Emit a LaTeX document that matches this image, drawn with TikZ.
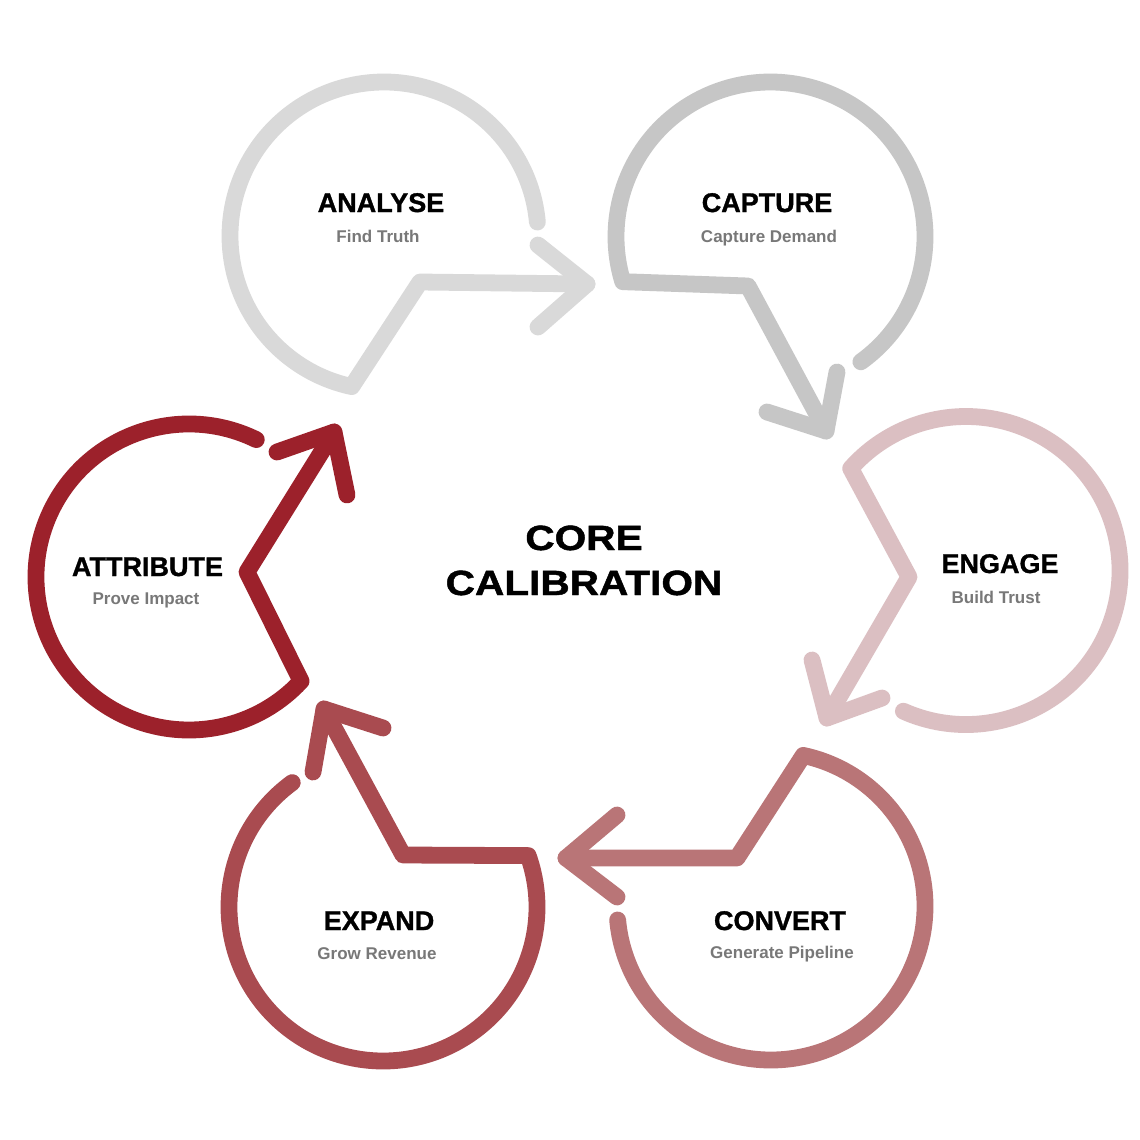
\documentclass[tikz,border=0pt]{standalone}
\usepackage{fontspec}
\setmainfont{Liberation Sans}
\newfontfamily\heavyfont[FakeBold=1.2]{Liberation Sans Bold}
\usepackage{graphicx}
\definecolor{cA}{HTML}{D9D9D9}
\definecolor{cB}{HTML}{C6C6C6}
\definecolor{cC}{HTML}{DBBFC2}
\definecolor{cD}{HTML}{B97577}
\definecolor{cE}{HTML}{A94B50}
\definecolor{cF}{HTML}{9C212B}
\definecolor{subgray}{HTML}{787878}
\begin{document}
\begin{tikzpicture}[x=1pt,y=-1pt,
  loopline/.style={line width=16.8pt, line cap=round, line join=round},
  title/.style={font=\fontsize{27}{32}\selectfont\heavyfont, anchor=base, inner sep=0pt, text=black},
  sub/.style={font=\fontsize{17}{20}\selectfont\bfseries, text=subgray, anchor=base, inner sep=0pt},
  core/.style={font=\fontsize{35}{40}\selectfont\heavyfont, anchor=base, inner sep=0pt, text=black}]
\fill[white] (0,0) rectangle (1140,1140);
\useasboundingbox (0,0) rectangle (1140,1140);

% ANALYSE
\coordinate (A) at (384,236);
\coordinate (Av) at (420,282);
\coordinate (At) at (587,284);
\coordinate (Aa1) at (538,245);
\coordinate (Aa2) at (538,327);
\draw[loopline, cA] (A) ++(-5.2:154) arc[start angle=-5.2, end angle=-257.9, radius=154] -- (Av) -- (At);
\draw[loopline, cA] (Aa1) -- (At) -- (Aa2);

% CAPTURE
\coordinate (B) at (770.5,236.5);
\coordinate (Bv) at (748,286);
\coordinate (Bt) at (826,431);
\coordinate (Ba1) at (837,372);
\coordinate (Ba2) at (767,412);
\draw[loopline, cB] (B) ++(54.2:154.5) arc[start angle=54.2, end angle=-197.0, radius=154.5] -- (Bv) -- (Bt);
\draw[loopline, cB] (Ba1) -- (Bt) -- (Ba2);

% ENGAGE
\coordinate (C) at (966,570.5);
\coordinate (Cv) at (909,577);
\coordinate (Ct) at (827,718);
\coordinate (Ca1) at (812,660);
\coordinate (Ca2) at (882,698);
\draw[loopline, cC] (C) ++(114.0:154) arc[start angle=114.0, end angle=-138.5, radius=154] -- (Cv) -- (Ct);
\draw[loopline, cC] (Ca1) -- (Ct) -- (Ca2);

% CONVERT
\coordinate (D) at (771,906);
\coordinate (Dv) at (737,858);
\coordinate (Dt) at (566,858);
\coordinate (Da1) at (617,815);
\coordinate (Da2) at (617,897);
\draw[loopline, cD] (D) ++(174.8:154) arc[start angle=174.8, end angle=-77.9, radius=154] -- (Dv) -- (Dt);
\draw[loopline, cD] (Da1) -- (Dt) -- (Da2);

% EXPAND
\coordinate (E) at (383,907);
\coordinate (Ev) at (403,855);
\coordinate (Et) at (324,709);
\coordinate (Ea1) at (313,772);
\coordinate (Ea2) at (383,728);
\draw[loopline, cE] (E) ++(233.9:154) arc[start angle=233.9, end angle=-19.5, radius=154] -- (Ev) -- (Et);
\draw[loopline, cE] (Ea1) -- (Et) -- (Ea2);

% ATTRIBUTE
\coordinate (F) at (189,577);
\coordinate (Fv) at (247,572);
\coordinate (Ft) at (334,432);
\coordinate (Fa1) at (277,452);
\coordinate (Fa2) at (347,495);
\draw[loopline, cF] (F) ++(-63.9:153) arc[start angle=-63.9, end angle=-317.1, radius=153] -- (Fv) -- (Ft);
\draw[loopline, cF] (Fa1) -- (Ft) -- (Fa2);

% texts
\node[title] (tA) at (381,212) {ANALYSE};
\node[sub] (sA) at (378,242) {Find Truth};
\node[title] (tB) at (767,212) {CAPTURE};
\node[sub] (sB) at (769,242) {Capture Demand};
\node[title] (tC) at (1000,573) {ENGAGE};
\node[sub] (sC) at (996,603) {Build Trust};
\node[title] (tD) at (780,930) {CONVERT};
\node[sub] (sD) at (782,958) {Generate Pipeline};
\node[title] (tE) at (379,930) {EXPAND};
\node[sub] (sE) at (377,959) {Grow Revenue};
\node[title] (tF) at (147.5,576) {ATTRIBUTE};
\node[sub] (sF) at (146,604) {Prove Impact};
\node[core] (core1) at (584,550) {\scalebox{1.16}[1]{CORE}};
\node[core] (core2) at (584,595) {\scalebox{1.16}[1]{CALIBRATION}};
\end{tikzpicture}
\end{document}
